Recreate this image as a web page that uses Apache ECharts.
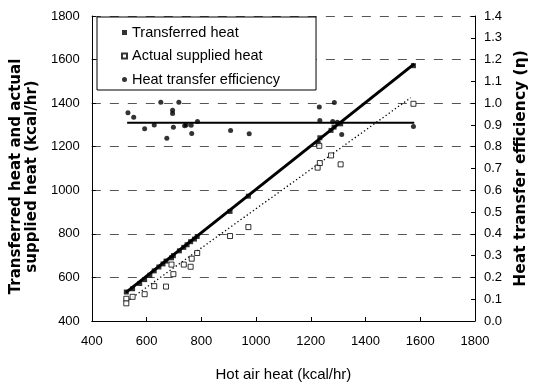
<!DOCTYPE html>
<html>
<head>
<meta charset="utf-8">
<script src="https://cdn.jsdelivr.net/npm/echarts@6/dist/echarts.min.js"></script>
<style>html,body{margin:0;padding:0;background:#fff}#c{width:537px;height:387px}</style>
</head>
<body>
<div id="c"></div>
<script>
// ---- data ----
var seriesNames = ['Transferred heat', 'Actual supplied heat', 'Heat transfer efficiency'];
// [hot air heat, transferred heat]
var transferred = [[526,533],[549,548],[575,572],[593,590],[612,610],[628,630],[645,648],[660,662],[671,675],[691,690],[698,700],[720,722],[736,738],[748,750],[761,764],[775,776],[785,788],[905,903],[972,973],[1227,1215],[1233,1241],[1274,1275],[1285,1290],[1309,1305],[1575,1572]];
// [hot air heat, actual supplied heat]
var supplied = [[526,502],[526,481],[549,511],[593,523],[628,560],[671,558],[698,615],[691,659],[736,659],[761,649],[765,686],[785,712],[905,790],[972,831],[1225,1104],[1233,1125],[1231,1204],[1274,1160],[1309,1119],[1575,1397]];
// [hot air heat, efficiency]
var efficiency = [[532,0.956],[553,0.935],[593,0.883],[628,0.90],[652,1.004],[674,0.839],[695,0.967],[695,0.952],[698,0.889],[718,1.004],[739,0.896],[745,0.90],[763,0.898],[765,0.861],[786,0.916],[907,0.874],[975,0.859],[1231,0.982],[1233,0.92],[1280,0.916],[1286,1.003],[1297,0.912],[1313,0.856],[1575,0.893]];
// fitted lines
var transferredFit = [[524,530],[1578,1580]];
var suppliedFit = [[526,488],[1565,1425]];
var efficiencyMean = [[529,0.91],[1578,0.91]];
// axis ranges
var xRange = [400, 1800, 200];
var yLeftRange = [400, 1800, 200];
var yRightRange = [0, 1.4, 0.1];

var FONT = '"Liberation Sans", Arial, sans-serif';
var NAMEFONT = '"DejaVu Sans", sans-serif';
var chart = echarts.init(document.getElementById('c'), null, {renderer: 'canvas'});
chart.setOption({
  animation: false,
  backgroundColor: '#fff',
  textStyle: {fontFamily: FONT, color: '#000'},
  grid: {left: 84, right: 50, top: 16, bottom: 56, containLabel: false},
  legend: {
    orient: 'vertical', left: 97, top: 17,
    backgroundColor: '#fff', borderColor: '#000', borderWidth: 1,
    padding: [8, 36, 3, 24],
    itemWidth: 5, itemHeight: 5, itemGap: 8.5,
    textStyle: {fontFamily: FONT, fontSize: 14.5, color: '#000'},
    data: [
      {name: seriesNames[0], icon: 'rect'},
      {name: seriesNames[1], icon: 'rect'},
      {name: seriesNames[2], icon: 'circle'}
    ]
  },
  xAxis: {
    type: 'value', min: xRange[0], max: xRange[1], interval: xRange[2],
    name: 'Hot air heat (kcal/hr)', nameLocation: 'middle', nameGap: 46,
    nameTextStyle: {fontFamily: FONT, fontSize: 15, color: '#000'},
    axisLine: {onZero: false, lineStyle: {color: '#000', width: 1}},
    axisTick: {inside: true, length: 4, lineStyle: {color: '#000'}},
    axisLabel: {fontFamily: FONT, fontSize: 13, color: '#000', margin: 14,
      formatter: function (v) { return String(v); }},
    splitLine: {show: false}
  },
  yAxis: [{
    type: 'value', min: yLeftRange[0], max: yLeftRange[1], interval: yLeftRange[2],
    name: 'Transferred heat and actual\nsupplied heat (kcal/hr)', nameLocation: 'middle', nameGap: 33,
    nameTextStyle: {fontFamily: NAMEFONT, fontSize: 15, fontWeight: 'bold', color: '#000', lineHeight: 16,
      padding: [0, 16, 0, 0]},
    axisLine: {show: true, onZero: false, lineStyle: {color: '#000', width: 1}},
    axisTick: {inside: true, length: 4, lineStyle: {color: '#000'}},
    axisLabel: {fontFamily: FONT, fontSize: 13, color: '#000', margin: 12,
      formatter: function (v) { return String(v); }},
    splitLine: {show: true, lineStyle: {color: '#555', type: [9, 9], width: 1}}
  }, {
    type: 'value', position: 'right', min: yRightRange[0], max: yRightRange[1], interval: yRightRange[2],
    name: 'Heat transfer efficiency (\u03B7)', nameLocation: 'middle', nameGap: 32, nameRotate: 90,
    nameTextStyle: {fontFamily: NAMEFONT, fontSize: 15.5, fontWeight: 'bold', color: '#000'},
    axisLine: {show: true, onZero: false, lineStyle: {color: '#000', width: 1}},
    axisTick: {inside: true, length: 4, lineStyle: {color: '#000'}},
    axisLabel: {fontFamily: FONT, fontSize: 13, color: '#000', margin: 9,
      formatter: function (v) { return v.toFixed(1); }},
    splitLine: {show: false}
  }],
  series: [
    {name: seriesNames[0], type: 'scatter', data: transferred, symbol: 'rect', symbolSize: 5,
      itemStyle: {color: '#000'}, z: 5},
    {name: seriesNames[1], type: 'scatter', data: supplied, symbol: 'rect', symbolSize: 5,
      itemStyle: {color: '#fff', borderColor: '#000', borderWidth: 1}, z: 5},
    {name: seriesNames[2], type: 'scatter', yAxisIndex: 1, data: efficiency, symbol: 'circle', symbolSize: 5,
      itemStyle: {color: '#000'}, z: 5},
    {name: 'fitT', type: 'line', data: transferredFit, symbol: 'none', lineStyle: {color: '#000', width: 3}, z: 4},
    {name: 'fitS', type: 'line', data: suppliedFit, symbol: 'none', lineStyle: {color: '#000', width: 1.3, type: [1.3, 2.5]}, z: 4},
    {name: 'meanE', type: 'line', yAxisIndex: 1, data: efficiencyMean, symbol: 'none', lineStyle: {color: '#000', width: 2}, z: 4}
  ]
});
</script>
</body>
</html>
